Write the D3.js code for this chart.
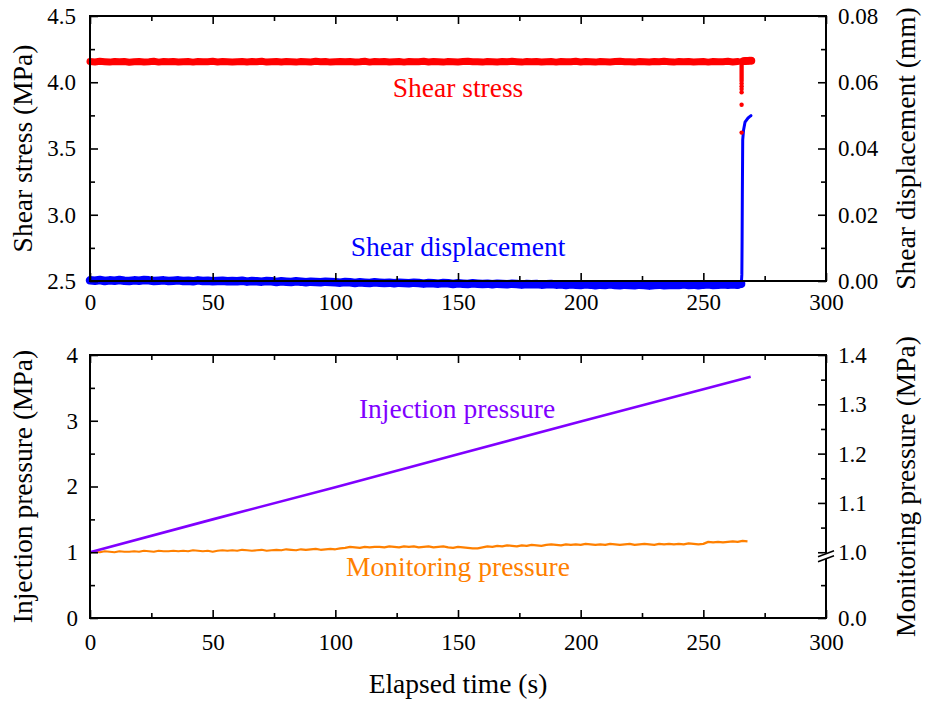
<!DOCTYPE html>
<html><head><meta charset="utf-8">
<script src="https://cdn.jsdelivr.net/npm/d3@7"></script>
<style>
html,body{margin:0;padding:0;background:#fff;}
svg text{font-family:"Liberation Serif","Tinos","Times New Roman",Times,"DejaVu Serif",serif;}
</style></head>
<body>
<svg id="chart" width="925" height="706"></svg>
<script>
// ---------- DATA ----------
const sampleStep = 2; // s, sampling of baseline records (t = 0, 2, 4, ...)
const shearStress = [
4.156,4.153,4.158,4.155,4.152,4.157,4.154,4.156,4.151,4.155,
4.157,4.153,4.155,4.158,4.152,4.156,4.154,4.157,4.153,4.155,
4.156,4.152,4.157,4.154,4.155,4.158,4.153,4.156,4.154,4.152,
4.155,4.157,4.153,4.156,4.154,4.158,4.152,4.155,4.157,4.153,
4.156,4.154,4.152,4.157,4.155,4.153,4.158,4.154,4.156,4.152,
4.155,4.157,4.154,4.156,4.153,4.155,4.158,4.152,4.156,4.154,
4.157,4.153,4.155,4.156,4.152,4.157,4.154,4.155,4.158,4.153,
4.156,4.154,4.152,4.157,4.155,4.153,4.156,4.158,4.154,4.155,
4.152,4.157,4.155,4.153,4.156,4.154,4.158,4.155,4.152,4.156,
4.154,4.157,4.153,4.155,4.156,4.152,4.157,4.154,4.155,4.158,
4.153,4.156,4.154,4.152,4.157,4.155,4.153,4.156,4.158,4.154,
4.155,4.152,4.157,4.155,4.153,4.156,4.154,4.158,4.155,4.152,
4.156,4.154,4.157,4.153,4.155,4.156,4.152,4.157,4.154,4.155,
4.158,4.153,4.156];
// stress drop at slip event (t ≈ 265.6 s) and afterwards
const stressEventTime  = [265.0,265.5,265.55,265.6,265.6,265.6,265.6,265.6,265.6,265.6,265.6,265.6,265.6,265.6,265.6,265.6,265.6,265.6];
const stressEventValue = [4.156,4.155,4.145,4.13,4.115,4.10,4.085,4.07,4.055,4.04,4.025,4.01,3.99,3.97,3.95,3.925,3.83,3.62];
const stressAfterTime  = [266.0,266.4,266.8,267.2,267.6,268.0,268.4,268.8,269.2,269.5,269.7];
const stressAfterValue = [4.158,4.162,4.157,4.163,4.159,4.164,4.160,4.165,4.161,4.166,4.162];

const shearDisp = [
0.0002,0.0001,0.0003,0.0000,0.0002,0.0001,0.0003,0.0001,0.0000,0.0002,
0.0001,0.0003,0.0002,0.0000,0.0001,0.0002,0.0000,0.0001,0.0002,0.0000,
0.0001,-0.0001,0.0002,0.0000,0.0001,-0.0001,0.0000,0.0001,-0.0001,0.0000,
-0.0001,0.0001,-0.0002,0.0000,-0.0001,-0.0002,0.0000,-0.0001,-0.0003,-0.0001,
-0.0002,-0.0003,-0.0001,-0.0002,-0.0004,-0.0002,-0.0003,-0.0004,-0.0002,-0.0003,
-0.0004,-0.0005,-0.0003,-0.0004,-0.0006,-0.0004,-0.0005,-0.0006,-0.0004,-0.0005,
-0.0006,-0.0005,-0.0007,-0.0005,-0.0006,-0.0007,-0.0005,-0.0006,-0.0008,-0.0006,
-0.0007,-0.0008,-0.0006,-0.0007,-0.0009,-0.0007,-0.0008,-0.0009,-0.0007,-0.0008,
-0.0009,-0.0008,-0.0010,-0.0008,-0.0009,-0.0010,-0.0008,-0.0009,-0.0011,-0.0009,
-0.0010,-0.0009,-0.0011,-0.0010,-0.0009,-0.0011,-0.0010,-0.0012,-0.0010,-0.0011,
-0.0012,-0.0010,-0.0011,-0.0013,-0.0011,-0.0012,-0.0010,-0.0012,-0.0013,-0.0011,
-0.0012,-0.0013,-0.0011,-0.0012,-0.0014,-0.0012,-0.0011,-0.0013,-0.0012,-0.0011,
-0.0012,-0.0010,-0.0012,-0.0011,-0.0013,-0.0011,-0.0010,-0.0012,-0.0011,-0.0010,
-0.0011,-0.0010,-0.0011];
const dispEventTime  = [264.0,265.0,265.5,265.7,265.8,265.9,266.0,266.05,266.4,267.0,268.2,269.0,269.4];
const dispEventValue = [-0.0011,-0.0010,-0.0008,0.002,0.012,0.026,0.037,0.0426,0.0456,0.0480,0.0492,0.0497,0.0499];

const injTime  = [0, 50, 100, 150, 200, 250, 269.3];
const injValue = [1.00, 1.50, 1.99, 2.49, 2.99, 3.48, 3.67];

const monitoring = [
1.000,1.001,1.000,1.002,1.001,1.000,1.002,1.001,1.001,
1.002,1.001,1.003,1.002,1.001,1.003,1.002,1.002,1.003,1.002,
1.003,1.002,1.004,1.003,1.002,1.003,1.001,1.003,1.004,1.003,
1.004,1.003,1.005,1.004,1.003,1.004,1.005,1.003,1.004,1.005,
1.004,1.006,1.005,1.004,1.006,1.005,1.006,1.007,1.005,1.006,
1.007,1.006,1.008,1.009,1.011,1.010,1.009,1.011,1.010,1.011,
1.011,1.010,1.012,1.011,1.010,1.012,1.011,1.012,1.010,1.011,
1.012,1.010,1.011,1.012,1.010,1.009,1.011,1.010,1.009,1.008,
1.008,1.010,1.012,1.011,1.013,1.012,1.014,1.013,1.012,1.014,
1.013,1.015,1.014,1.013,1.015,1.016,1.015,1.014,1.016,1.015,
1.016,1.015,1.017,1.016,1.015,1.016,1.015,1.017,1.016,1.015,
1.016,1.017,1.015,1.016,1.017,1.016,1.015,1.017,1.016,1.017,
1.016,1.017,1.016,1.018,1.017,1.016,1.017,1.021,1.020,1.021,
1.020,1.021,1.022,1.021,1.023,1.022];

const timeTicks   = [0,50,100,150,200,250,300];
const timeMinor   = [25,75,125,175,225,275];
const stressTicks = [2.5,3.0,3.5,4.0,4.5];
const stressMinor = [2.75,3.25,3.75,4.25];
const dispTicks   = [0,0.02,0.04,0.06,0.08];
const dispMinor   = [0.01,0.03,0.05,0.07];
const injTicks    = [0,1,2,3,4];
const injMinor    = [0.5,1.5,2.5,3.5];
const monTicks    = [0,1.0,1.1,1.2,1.3,1.4];
const monMinor    = [0.5,1.05,1.15,1.25,1.35];

// ---------- LAYOUT ----------
const svg = d3.select("#chart");
const X0 = 90, X1 = 826;
const T1 = 16, B1 = 281, T2 = 355, B2 = 618;
const FS_TICK = 23, FS_TITLE = 27.5;
const FONT = "Liberation Serif, Tinos, Times New Roman, Times, DejaVu Serif, serif";
const RED = "#ff0000", BLUE = "#0000ff", PURPLE = "#8000ff", ORANGE = "#ff8000";

const x = d3.scaleLinear().domain([0,300]).range([X0,X1]);
const yStress = d3.scaleLinear().domain([2.5,4.5]).range([B1,T1]);
const yDisp = d3.scaleLinear().domain([0,0.08]).range([B1,T1]);
const yInj = d3.scaleLinear().domain([0,4]).range([B2,T2]);
const yMon = d3.scaleLinear().domain([0,1.0,1.4]).range([B2,yInj(1),T2]);

const t = i => i * sampleStep;

// ---------- DATA LAYER: top panel ----------
const gTop = svg.append("g");
const line = (xs, ys, yS) => d3.line().x((d,i)=>x(xs[i])).y((d,i)=>yS(ys[i]));

// shear displacement baseline band
gTop.append("path").datum(shearDisp)
  .attr("d", d3.line().x((d,i)=>x(t(i))).y(d=>yDisp(d)))
  .attr("fill","none").attr("stroke",BLUE).attr("stroke-width",8.5)
  .attr("stroke-linejoin","round").attr("stroke-linecap","round");
gTop.append("path").datum(dispEventValue)
  .attr("d", line(dispEventTime, dispEventValue, yDisp))
  .attr("fill","none").attr("stroke",BLUE).attr("stroke-width",3).attr("stroke-linecap","round");
gTop.selectAll("circle.dispev").data(dispEventValue.slice(0,3)).join("circle")
  .attr("cx",(d,i)=>x(dispEventTime[i])).attr("cy",d=>yDisp(d)).attr("r",4).attr("fill",BLUE);

// shear stress
gTop.append("path").datum(shearStress)
  .attr("d", d3.line().x((d,i)=>x(t(i))).y(d=>yStress(d)))
  .attr("fill","none").attr("stroke",RED).attr("stroke-width",7)
  .attr("stroke-linejoin","round").attr("stroke-linecap","round");
gTop.selectAll("circle.stev").data(stressEventValue).join("circle")
  .attr("cx",(d,i)=>x(stressEventTime[i])).attr("cy",d=>yStress(d)).attr("r",2.2).attr("fill",RED);
gTop.selectAll("circle.staf").data(stressAfterValue).join("circle")
  .attr("cx",(d,i)=>x(stressAfterTime[i])).attr("cy",d=>yStress(d)).attr("r",3.6).attr("fill",RED);

// ---------- DATA LAYER: bottom panel ----------
const gBot = svg.append("g");
gBot.append("path").datum(monitoring)
  .attr("d", d3.line().x((d,i)=>x(t(i))).y(d=>yMon(d)))
  .attr("fill","none").attr("stroke",ORANGE).attr("stroke-width",2.2).attr("stroke-linejoin","round");
gBot.append("path").datum(injValue)
  .attr("d", line(injTime, injValue, yInj))
  .attr("fill","none").attr("stroke",PURPLE).attr("stroke-width",2.6);

// ---------- AXES ----------
function styleAxis(g){
  g.attr("font-family", FONT);
  g.select(".domain").remove();
  g.selectAll(".tick line").attr("stroke","#000").attr("stroke-width",1.6);
  g.selectAll(".tick text").attr("font-size",FS_TICK).attr("fill","#000");
}
function axisSet(gen, scale, major, minor, fmt, pos, pad, noLabels){
  const gM = svg.append("g").attr("transform",pos)
    .call(gen(scale).tickValues(major).tickSize(-8).tickPadding(noLabels?0:pad)
      .tickFormat(noLabels? ()=>"" : fmt));
  styleAxis(gM);
  const gm = svg.append("g").attr("transform",pos)
    .call(gen(scale).tickValues(minor).tickSize(-5).tickFormat(()=>""));
  styleAxis(gm);
  return gM;
}
const fInt = d=>d3.format("d")(d);
// top panel
axisSet(d3.axisBottom, x, timeTicks, timeMinor, fInt, `translate(0,${B1})`, 13);
axisSet(d3.axisTop, x, timeTicks, timeMinor, fInt, `translate(0,${T1})`, 0, true);
axisSet(d3.axisLeft, yStress, stressTicks, stressMinor, d=>d.toFixed(1), `translate(${X0},0)`, 14);
axisSet(d3.axisRight, yDisp, dispTicks, dispMinor, d=>d.toFixed(2), `translate(${X1},0)`, 12);
// bottom panel
axisSet(d3.axisBottom, x, timeTicks, timeMinor, fInt, `translate(0,${B2})`, 16);
axisSet(d3.axisTop, x, timeTicks, timeMinor, fInt, `translate(0,${T2})`, 0, true);
axisSet(d3.axisLeft, yInj, injTicks, injMinor, fInt, `translate(${X0},0)`, 12);
axisSet(d3.axisRight, yMon, monTicks, monMinor, d=>d.toFixed(1), `translate(${X1},0)`, 12);

// frames
[[T1,B1],[T2,B2]].forEach(([a,b])=>{
  svg.append("rect").attr("x",X0).attr("y",a).attr("width",X1-X0).attr("height",b-a)
    .attr("fill","none").attr("stroke","#000").attr("stroke-width",2);
});

// axis break on right axis of bottom panel
const by = yMon(1.0) + 4;
svg.append("rect").attr("x",X1-3).attr("y",by-2.5).attr("width",6).attr("height",5).attr("fill","#fff");
[-2.6, 2.6].forEach(o=>{
  svg.append("line").attr("x1",X1-8).attr("y1",by+o+3).attr("x2",X1+8).attr("y2",by+o-3)
    .attr("stroke","#000").attr("stroke-width",1.6);
});

// ---------- TEXT ----------
const txt = (s, xx, yy, col, rot) => {
  const e = svg.append("text").text(s).attr("font-size",FS_TITLE).attr("fill",col||"#000")
    .attr("font-family", FONT).attr("text-anchor","middle");
  if (rot) e.attr("transform",`translate(${xx},${yy}) rotate(-90)`);
  else e.attr("x",xx).attr("y",yy);
  return e;
};
txt("Shear stress (MPa)", 32, (T1+B1)/2, "#000", true);
txt("Shear displacement (mm)", 915, (T1+B1)/2, "#000", true);
txt("Injection pressure (MPa)", 32, (T2+B2)/2, "#000", true);
txt("Monitoring pressure (MPa)", 915, (T2+B2)/2, "#000", true);
txt("Elapsed time (s)", 458, 693);

txt("Shear stress", 458, 97, RED);
txt("Shear displacement", 458, 256, BLUE);
txt("Injection pressure", 457, 418, PURPLE);
txt("Monitoring pressure", 458, 576, ORANGE);
</script>
</body></html>
